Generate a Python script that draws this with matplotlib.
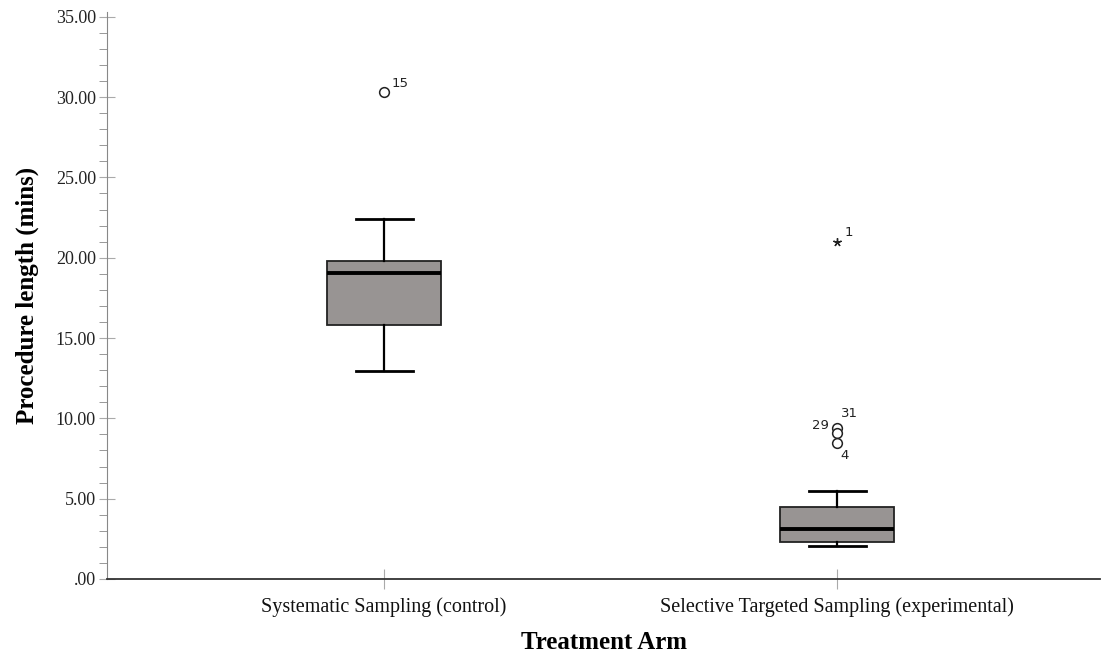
import numpy as np
import matplotlib.pyplot as plt
from matplotlib.ticker import MultipleLocator, FuncFormatter

# box statistics
groups = ["Systematic Sampling (control)", "Selective Targeted Sampling (experimental)"]
whislo = [12.95, 2.05]
q1 = [15.8, 2.3]
med = [19.05, 3.1]
q3 = [19.8, 4.48]
whishi = [22.4, 5.48]
outliers = [[30.3], [9.42, 9.07, 8.45]]
outlier_ids = [["15"], ["29", "31", "4"]]
extremes = [[], [21.0]]
extreme_ids = [[], ["1"]]

fig = plt.figure(figsize=(11.07, 6.54), dpi=100)
ax = fig.add_axes([0.0967, 0.1147, 0.897, 0.867])

stats = []
for i in range(2):
    stats.append(dict(whislo=whislo[i], q1=q1[i], med=med[i], q3=q3[i],
                      whishi=whishi[i], fliers=outliers[i], label=groups[i]))

pos = [1, 2]
ax.bxp(stats, positions=pos, widths=0.252, patch_artist=True,
       boxprops=dict(facecolor="#989493", edgecolor="#222222", linewidth=1.3),
       medianprops=dict(color="black", linewidth=2.8),
       whiskerprops=dict(color="black", linewidth=1.6),
       capprops=dict(color="black", linewidth=2.0),
       capwidths=0.126,
       flierprops=dict(marker="o", markerfacecolor="white", markeredgecolor="#222222",
                       markersize=7, markeredgewidth=1.1))

for i in range(2):
    if extremes[i]:
        ax.plot([pos[i]] * len(extremes[i]), extremes[i], marker=(5, 2, 0), ls="none",
                color="#222222", markersize=6, markeredgewidth=1.0)

lab_kw = dict(fontsize=9.5, family="DejaVu Sans", color="#222222")
# point labels
ax.annotate(outlier_ids[0][0], (pos[0], outliers[0][0]), xytext=(5, 4), textcoords="offset points", **lab_kw)
ax.annotate(extreme_ids[1][0], (pos[1], extremes[1][0]), xytext=(5, 4), textcoords="offset points", **lab_kw)
ax.annotate(outlier_ids[1][0], (pos[1], outliers[1][0]), xytext=(-18, -1), textcoords="offset points", **lab_kw)
ax.annotate(outlier_ids[1][1], (pos[1], outliers[1][0]), xytext=(3, 8), textcoords="offset points", **lab_kw)
ax.annotate(outlier_ids[1][2], (pos[1], outliers[1][2]), xytext=(2, -11), textcoords="offset points", **lab_kw)

ax.set_xlim(0.3885, 2.58)
ax.set_ylim(0, 35.3)
ax.yaxis.set_major_locator(MultipleLocator(5))
ax.yaxis.set_minor_locator(MultipleLocator(1))
ax.yaxis.set_major_formatter(FuncFormatter(lambda v, p: ".00" if v == 0 else f"{v:.2f}"))

ax.set_xticks(pos)
ax.set_xticklabels(groups)

for s in ["top", "right"]:
    ax.spines[s].set_visible(False)
ax.spines["left"].set_color("#888888")
ax.spines["bottom"].set_color("#333333")
ax.spines["bottom"].set_linewidth(1.3)

ax.tick_params(axis="y", which="major", direction="inout", length=12, color="#aaaaaa",
               labelsize=13, labelcolor="#222222", pad=2)
ax.tick_params(axis="y", which="minor", direction="out", length=6, color="#888888")
ax.tick_params(axis="x", direction="inout", length=14, color="#aaaaaa",
               labelsize=14.5, labelcolor="#111111", pad=6)
for t in ax.get_xticklabels() + ax.get_yticklabels():
    t.set_family("Liberation Serif")

ax.set_ylabel("Procedure length (mins)", family="Liberation Serif", fontsize=18,
              fontweight="bold", labelpad=12)
ax.set_xlabel("Treatment Arm", family="Liberation Serif", fontsize=18,
              fontweight="bold", labelpad=10)

fig.savefig("out.png", dpi=100)
